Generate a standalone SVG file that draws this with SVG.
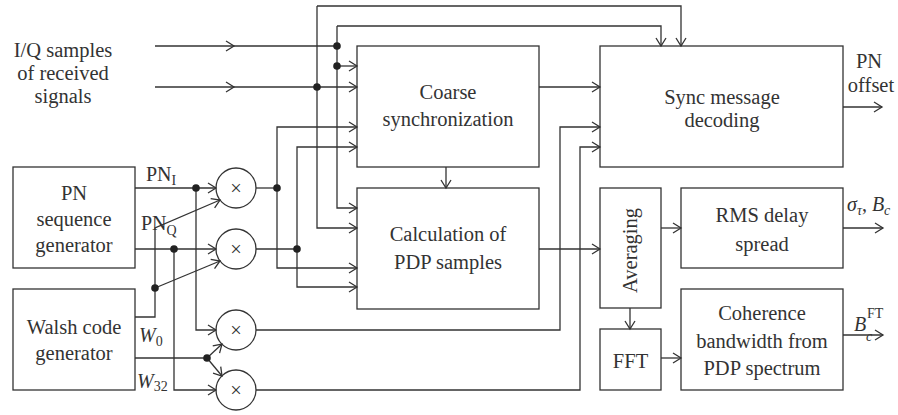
<svg xmlns="http://www.w3.org/2000/svg" width="898" height="415" viewBox="0 0 898 415" font-family="'Liberation Serif', 'Times New Roman', serif">
<style>
.b{fill:none;stroke:#333;stroke-width:1.3}
.c{fill:none;stroke:#333;stroke-width:1.3}
text{font-family:'Liberation Serif','Times New Roman',serif}
.t{font-size:20.5px;fill:#333;text-anchor:middle}
.l{font-size:20px;fill:#333}
.s{font-size:14px}
.i{font-style:italic}
.d{fill:#222}
</style>
<defs>
<marker id="a" markerUnits="userSpaceOnUse" markerWidth="12" markerHeight="12" viewBox="-10 -6 12 12" refX="0" refY="0" orient="auto" overflow="visible">
<path d="M-8,-5 L0,0 L-8,5" fill="none" stroke="#333" stroke-width="1.3"/>
</marker>
</defs>
<rect width="898" height="415" fill="#fff"/>

<g id="connectors" class="c">
<path d="M155,46 H234" marker-end="url(#a)"/>
<path d="M234,46 H337"/>
<path d="M155,87 H234" marker-end="url(#a)"/>
<path d="M234,87 H357" marker-end="url(#a)"/>
<path d="M317,6 V228 H357" marker-end="url(#a)"/>
<path d="M317,6 H681 V46" marker-end="url(#a)"/>
<path d="M337,26 V208 H357" marker-end="url(#a)"/>
<path d="M337,26 H661 V46" marker-end="url(#a)"/>
<path d="M337,66 H357" marker-end="url(#a)"/>
<path d="M135,188 H216" marker-end="url(#a)"/>
<path d="M196,188 V330 H216" marker-end="url(#a)"/>
<path d="M135,249 H216" marker-end="url(#a)"/>
<path d="M174,249 V390 H216" marker-end="url(#a)"/>
<path d="M135,317 H155 V228 L220,200" marker-end="url(#a)"/>
<path d="M155,288 L220,261" marker-end="url(#a)"/>
<path d="M135,358 H207"/>
<path d="M207,358 L222,344" marker-end="url(#a)"/>
<path d="M207,358 L222,376" marker-end="url(#a)"/>
<path d="M256,188 H277"/>
<path d="M277,188 V127 H357" marker-end="url(#a)"/>
<path d="M277,188 V268 H357" marker-end="url(#a)"/>
<path d="M256,249 H297"/>
<path d="M297,249 V147 H357" marker-end="url(#a)"/>
<path d="M297,249 V287 H357" marker-end="url(#a)"/>
<path d="M256,330 H560 V127 H600" marker-end="url(#a)"/>
<path d="M256,390 H580 V147 H600" marker-end="url(#a)"/>
<path d="M539,87 H600" marker-end="url(#a)"/>
<path d="M446,167 V188" marker-end="url(#a)"/>
<path d="M539,249 H600" marker-end="url(#a)"/>
<path d="M661,228 H681" marker-end="url(#a)"/>
<path d="M630,308 V329" marker-end="url(#a)"/>
<path d="M661,358 H681" marker-end="url(#a)"/>
<path d="M843,107 H882" marker-end="url(#a)"/>
<path d="M843,228 H883" marker-end="url(#a)"/>
<path d="M843,335 H883" marker-end="url(#a)"/>
</g>
<g id="junctions" class="d">
<circle cx="337" cy="46" r="3.8"/>
<circle cx="337" cy="66" r="3.8"/>
<circle cx="317" cy="87" r="3.8"/>
<circle cx="196" cy="188" r="3.8"/>
<circle cx="277" cy="188" r="3.8"/>
<circle cx="174" cy="249" r="3.8"/>
<circle cx="297" cy="249" r="3.8"/>
<circle cx="155" cy="288" r="3.8"/>
<circle cx="207" cy="358" r="3.8"/>
</g>

<g id="input-label">
<text class="t" x="63" y="57">I/Q samples</text>
<text class="t" x="63" y="80">of received</text>
<text class="t" x="63" y="103">signals</text>
</g>

<g id="pn-gen">
<rect class="b" x="13" y="167" width="122" height="101"/>
<text class="t" x="74" y="200">PN</text>
<text class="t" x="74" y="226">sequence</text>
<text class="t" x="74" y="252">generator</text>
</g>
<g id="walsh-gen">
<rect class="b" x="13" y="289" width="122" height="101"/>
<text class="t" x="74" y="334">Walsh code</text>
<text class="t" x="74" y="360">generator</text>
</g>

<g id="signal-labels">
<text class="l" x="146" y="181">PN<tspan class="s" dy="4">I</tspan></text>
<text class="l" x="141" y="230">PN<tspan class="s" dy="5">Q</tspan></text>
<text class="l i" x="139" y="342">W<tspan class="s" dy="4" style="font-style:normal">0</tspan></text>
<text class="l i" x="137" y="388">W<tspan class="s" dy="3" style="font-style:normal">32</tspan></text>
</g>

<g id="mult1"><circle class="b" cx="236" cy="188" r="20"/><text class="t" x="236" y="195">×</text></g>
<g id="mult2"><circle class="b" cx="236" cy="249" r="20"/><text class="t" x="236" y="256">×</text></g>
<g id="mult3"><circle class="b" cx="236" cy="330" r="20"/><text class="t" x="236" y="337">×</text></g>
<g id="mult4"><circle class="b" cx="236" cy="390" r="20"/><text class="t" x="236" y="397">×</text></g>

<g id="coarse">
<rect class="b" x="357" y="46" width="182" height="121"/>
<text class="t" x="448" y="99">Coarse</text>
<text class="t" x="448" y="126">synchronization</text>
</g>
<g id="calc">
<rect class="b" x="357" y="188" width="182" height="121"/>
<text class="t" x="448" y="241">Calculation of</text>
<text class="t" x="448" y="269">PDP samples</text>
</g>
<g id="sync">
<rect class="b" x="600" y="46" width="243" height="121"/>
<text class="t" x="722" y="104">Sync message</text>
<text class="t" x="722" y="127">decoding</text>
</g>
<g id="averaging">
<rect class="b" x="600" y="188" width="61" height="120"/>
<text class="t" transform="translate(637,250.5) rotate(-90)" x="0" y="0">Averaging</text>
</g>
<g id="rms">
<rect class="b" x="681" y="188" width="162" height="80"/>
<text class="t" x="762" y="222">RMS delay</text>
<text class="t" x="762" y="251">spread</text>
</g>
<g id="fft">
<rect class="b" x="600" y="329" width="61" height="61"/>
<text class="t" x="630.5" y="368">FFT</text>
</g>
<g id="coherence">
<rect class="b" x="681" y="289" width="162" height="101"/>
<text class="t" x="762" y="320">Coherence</text>
<text class="t" x="762" y="348">bandwidth from</text>
<text class="t" x="762" y="375">PDP spectrum</text>
</g>

<g id="outputs">
<text class="t" x="869" y="68">PN</text>
<text class="t" x="871" y="92">offset</text>
<text class="l i" x="847" y="211">σ<tspan class="s" dy="4">τ</tspan><tspan dy="-4" style="font-style:normal">, </tspan>B<tspan class="s" dy="4">c</tspan></text>
<text class="l i" x="854" y="331">B</text>
<text class="l i s" x="866" y="341">c</text>
<text class="l s" x="867" y="318">FT</text>
</g>
</svg>
